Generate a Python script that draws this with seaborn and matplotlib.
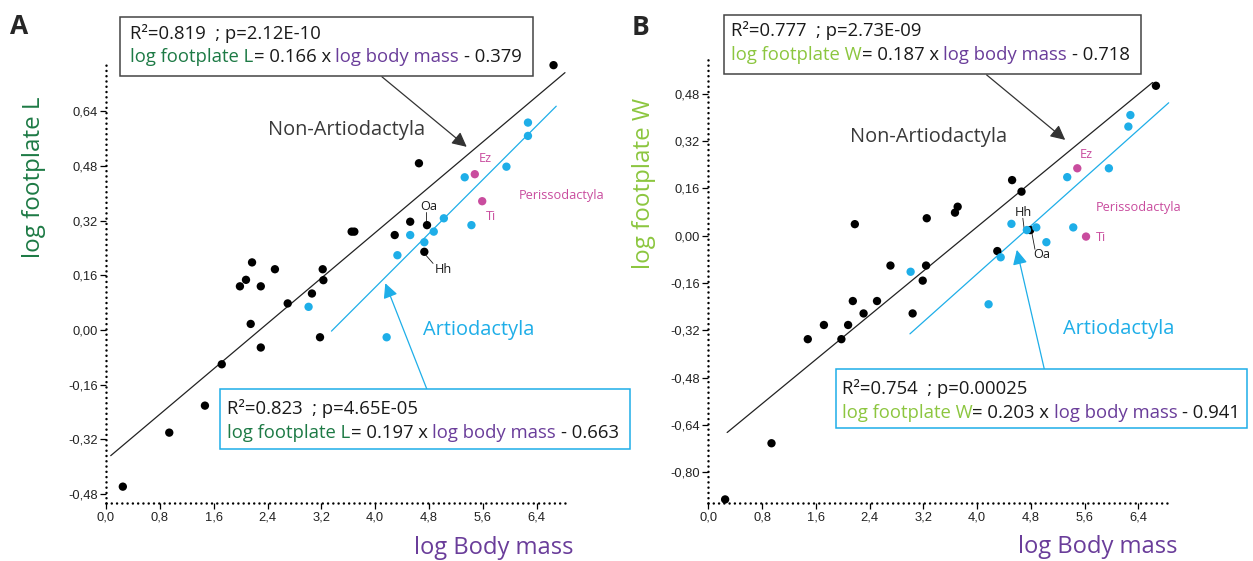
import numpy as np
import pandas as pd
import matplotlib
matplotlib.use("Agg")
import matplotlib.pyplot as plt
import seaborn as sns
from matplotlib.patches import Rectangle
from matplotlib.text import Annotation

# ---- data ----
# panel A : log footplate L vs log body mass
A_non_x = [0.25, 0.94, 1.47, 1.72, 1.99, 2.08, 2.17, 2.15, 2.30, 2.30, 2.51, 2.70,
           3.06, 3.23, 3.22, 3.18, 3.65, 3.69, 4.29, 4.52, 4.77, 4.73, 4.65, 6.65]
A_non_y = [-0.458, -0.30, -0.221, -0.100, 0.128, 0.147, 0.198, 0.018, 0.128, -0.051, 0.178, 0.078,
           0.107, 0.146, 0.178, -0.021, 0.288, 0.288, 0.278, 0.317, 0.307, 0.229, 0.488, 0.775]
A_art_x = [3.01, 4.17, 4.33, 4.52, 4.73, 4.87, 5.02, 5.33, 5.43, 5.95, 6.27, 6.27]
A_art_y = [0.068, -0.021, 0.219, 0.278, 0.257, 0.288, 0.327, 0.447, 0.307, 0.478, 0.568, 0.607]
A_per_x = [5.48, 5.59]
A_per_y = [0.456, 0.377]

# panel B : log footplate W vs log body mass
B_non_x = [0.25, 0.94, 1.48, 1.72, 1.98, 2.08, 2.15, 2.31, 2.51, 2.18, 2.71, 3.04,
           3.19, 3.24, 3.25, 3.67, 3.71, 4.30, 4.52, 4.66, 4.79, 6.66]
B_non_y = [-0.892, -0.702, -0.350, -0.302, -0.350, -0.302, -0.221, -0.263, -0.221, 0.039, -0.101, -0.263,
           -0.152, -0.101, 0.059, 0.078, 0.098, -0.052, 0.188, 0.149, 0.019, 0.507]
B_art_x = [3.01, 4.17, 4.35, 4.51, 4.74, 4.88, 5.03, 5.34, 5.43, 5.96, 6.25, 6.28]
B_art_y = [-0.122, -0.232, -0.073, 0.040, 0.019, 0.028, -0.022, 0.198, 0.028, 0.228, 0.369, 0.408]
B_per_x = [5.49, 5.62]
B_per_y = [0.228, -0.003]

# regression equations (slope, intercept) and drawn x-range
A_non_fit = (0.166, -0.379, 0.07, 6.82)
A_art_fit = (0.197, -0.663, 3.35, 6.69)
B_non_fit = (0.187, -0.718, 0.28, 6.61)
B_art_fit = (0.203, -0.941, 3.00, 6.85)

x_ticks = [0.0, 0.8, 1.6, 2.4, 3.2, 4.0, 4.8, 5.6, 6.4]
A_y_ticks = [-0.48, -0.32, -0.16, 0.00, 0.16, 0.32, 0.48, 0.64]
B_y_ticks = [-0.80, -0.64, -0.48, -0.32, -0.16, 0.00, 0.16, 0.32, 0.48]

# ---- style ----
BLACK = "#1a1a1a"
BLUE = "#1eaee8"
MAGENTA = "#c94c9e"
PURPLE = "#6a3d9a"
DKGREEN = "#1d7a45"
LTGREEN = "#8cc63f"
GRAY = "#3a3a3a"

sns.set_style("ticks")
plt.rcParams["font.family"] = ["Open Sans", "DejaVu Sans"]

W, H = 1253, 561
fig = plt.figure(figsize=(W / 100, H / 100), dpi=100)


def fx(px):
    return px / W


def fy(py):
    return 1 - py / H


def make_df(nx, ny, ax_, ay, px, py):
    rows = []
    for g, xs, ys in (("non", nx, ny), ("art", ax_, ay), ("per", px, py)):
        for a, b in zip(xs, ys):
            rows.append({"mass": a, "foot": b, "group": g})
    return pd.DataFrame(rows)


def fit_df(fit):
    k, c, x0, x1 = fit
    xs = np.array([x0, x1])
    return pd.DataFrame({"mass": xs, "foot": k * xs + c})


def style_axes(ax, yticks, ylim):
    ax.set_xlim(0, 6.9)
    ax.set_ylim(*ylim)
    for s in ("top", "right"):
        ax.spines[s].set_visible(False)
    for s in ("left", "bottom"):
        sp = ax.spines[s]
        sp.set_linestyle((0, (0.01, 2.1)))
        sp.set_linewidth(1.8)
        sp.set_capstyle("round")
        sp.set_color("black")
    ax.set_xticks(x_ticks)
    ax.set_xticklabels([f"{v:.1f}".replace(".", ",") for v in x_ticks],
                       fontfamily="Liberation Sans", fontsize=9.3, color="#222222")
    ax.set_yticks(yticks)
    ax.set_yticklabels([f"{v:.2f}".replace(".", ",") for v in yticks],
                       fontfamily="Liberation Sans", fontsize=9.3, color="#222222")
    ax.tick_params(direction="out", length=4, width=0.9, pad=2, color="black")
    ax.set_xlabel("")
    ax.set_ylabel("")
    ax.patch.set_alpha(0)


def rainbow(x, y, pieces, size=13.3):
    t = fig.text(fx(x), fy(y), pieces[0][0], color=pieces[0][1], fontsize=size,
                 va="center", ha="left")
    for s, c, gap in pieces[1:]:
        t = Annotation(s, xy=(1, 0.5), xycoords=t, xytext=(gap, 0),
                       textcoords="offset points", color=c, fontsize=size,
                       va="center", ha="left")
        fig.add_artist(t)


def box(x0, y0, x1, y1, color):
    fig.add_artist(Rectangle((fx(x0), fy(y1)), (x1 - x0) / W, (y1 - y0) / H,
                             transform=fig.transFigure, facecolor="white",
                             edgecolor=color, lw=1.1, zorder=1))


palette = {"non": "black", "art": BLUE, "per": MAGENTA}

axA = fig.add_axes([0.0846, 0.1039, 0.3706, 0.7891])
axB = fig.add_axes([0.5653, 0.1029, 0.3701, 0.7932])

for ax, df, fits in ((axA, make_df(A_non_x, A_non_y, A_art_x, A_art_y, A_per_x, A_per_y),
                      (A_non_fit, A_art_fit)),
                     (axB, make_df(B_non_x, B_non_y, B_art_x, B_art_y, B_per_x, B_per_y),
                      (B_non_fit, B_art_fit))):
    sns.lineplot(data=fit_df(fits[0]), x="mass", y="foot", color="#222222", lw=0.9, ax=ax)
    sns.lineplot(data=fit_df(fits[1]), x="mass", y="foot", color=BLUE, lw=0.9, ax=ax)
    sns.scatterplot(data=df, x="mass", y="foot", hue="group", palette=palette,
                    hue_order=["non", "art", "per"], s=36, linewidth=0,
                    legend=False, ax=ax, clip_on=False, zorder=3)

style_axes(axA, A_y_ticks, (-0.505, 0.79))
style_axes(axB, B_y_ticks, (-0.905, 0.60))

# ---- annotations inside panels ----
lab = dict(fontsize=14.4, ha="center", va="center")
axA.text(3.58, 0.585, "Non-Artiodactyla", color=GRAY, **lab)
axA.text(5.54, 0.0, "Artiodactyla", color=BLUE, **lab)
axB.text(3.27, 0.335, "Non-Artiodactyla", color=GRAY, **lab)
axB.text(6.11, -0.317, "Artiodactyla", color=BLUE, **lab)

small = dict(fontsize=9.2, va="center")
axA.text(6.13, 0.395, "Perissodactyla", color=MAGENTA, ha="left", **small)
axA.text(5.63, 0.502, "Ez", color=MAGENTA, ha="center", **small)
axA.text(5.72, 0.331, "Ti", color=MAGENTA, ha="center", **small)
axA.text(4.79, 0.361, "Oa", color=BLACK, ha="center", **small)
axA.text(5.01, 0.178, "Hh", color=BLACK, ha="center", **small)
axA.plot([4.76, 4.76], [0.344, 0.317], color=BLACK, lw=0.6)
axA.plot([4.74, 4.86], [0.222, 0.195], color=BLACK, lw=0.6)

axB.text(5.76, 0.095, "Perissodactyla", color=MAGENTA, ha="left", **small)
axB.text(5.63, 0.273, "Ez", color=MAGENTA, ha="center", **small)
axB.text(5.76, -0.007, "Ti", color=MAGENTA, ha="left", **small)
axB.text(4.69, 0.078, "Hh", color=BLACK, ha="center", **small)
axB.text(4.96, -0.065, "Oa", color=BLACK, ha="center", **small)
axB.plot([4.68, 4.70], [0.059, 0.022], color=BLACK, lw=0.6)
axB.plot([4.81, 4.86], [0.014, -0.046], color=BLACK, lw=0.6)

arr = dict(arrowstyle="-|>", lw=0.9, mutation_scale=22, shrinkA=0, shrinkB=0)
axA.annotate("", xy=(5.36, 0.536), xytext=(4.10, 0.741),
             arrowprops=dict(color="#333333", **arr))
axA.annotate("", xy=(4.15, 0.137), xytext=(4.77, -0.174),
             arrowprops=dict(color=BLUE, **arr))
axB.annotate("", xy=(5.31, 0.324), xytext=(4.14, 0.544),
             arrowprops=dict(color="#333333", **arr))
axB.annotate("", xy=(4.59, -0.048), xytext=(5.00, -0.452),
             arrowprops=dict(color=BLUE, **arr))

# ---- equation boxes ----
box(119.8, 16.7, 532.8, 76.0, "#444444")
rainbow(130.4, 33.3, [("R²=0.819  ; p=2.12E-10", BLACK)])
rainbow(130.4, 57.3, [("log footplate L", DKGREEN), ("= 0.166 x", BLACK, 0),
                      ("log body mass", PURPLE, 3.4), ("- 0.379", BLACK, 3.4)])

box(220.2, 389.0, 630.0, 449.0, BLUE)
rainbow(227.3, 408.3, [("R²=0.823  ; p=4.65E-05", BLACK)])
rainbow(227.3, 433.3, [("log footplate L", DKGREEN), ("= 0.197 x", BLACK, 0),
                       ("log body mass", PURPLE, 3.4), ("- 0.663", BLACK, 3.4)])

box(724.0, 15.0, 1141.0, 74.0, "#444444")
rainbow(730.8, 30.7, [("R²=0.777  ; p=2.73E-09", BLACK)])
rainbow(730.8, 55.0, [("log footplate W", LTGREEN), ("= 0.187 x", BLACK, 0),
                      ("log body mass", PURPLE, 3.4), ("- 0.718", BLACK, 3.4)])

box(835.5, 369.3, 1247.4, 428.3, BLUE)
rainbow(841.5, 388.3, [("R²=0.754  ; p=0.00025", BLACK)])
rainbow(841.5, 413.3, [("log footplate W", LTGREEN), ("= 0.203 x", BLACK, 0),
                       ("log body mass", PURPLE, 3.4), ("- 0.941", BLACK, 3.4)])

# ---- axis labels and panel letters ----
fig.text(fx(33.6), fy(177.5), "log footplate L", color=DKGREEN, fontsize=17.4,
         rotation=90, ha="center", va="center")
fig.text(fx(644), fy(183), "log footplate W", color=LTGREEN, fontsize=17.4,
         rotation=90, ha="center", va="center")
fig.text(fx(573), fy(548), "log Body mass", color=PURPLE, fontsize=17.1,
         ha="right", va="center")
fig.text(fx(1177.4), fy(546.7), "log Body mass", color=PURPLE, fontsize=17.1,
         ha="right", va="center")
fig.text(fx(19), fy(26.5), "A", fontsize=19, fontweight="bold", ha="center", va="center")
fig.text(fx(641), fy(27.5), "B", fontsize=19, fontweight="bold", ha="center", va="center")

fig.savefig("out.png", dpi=100)
